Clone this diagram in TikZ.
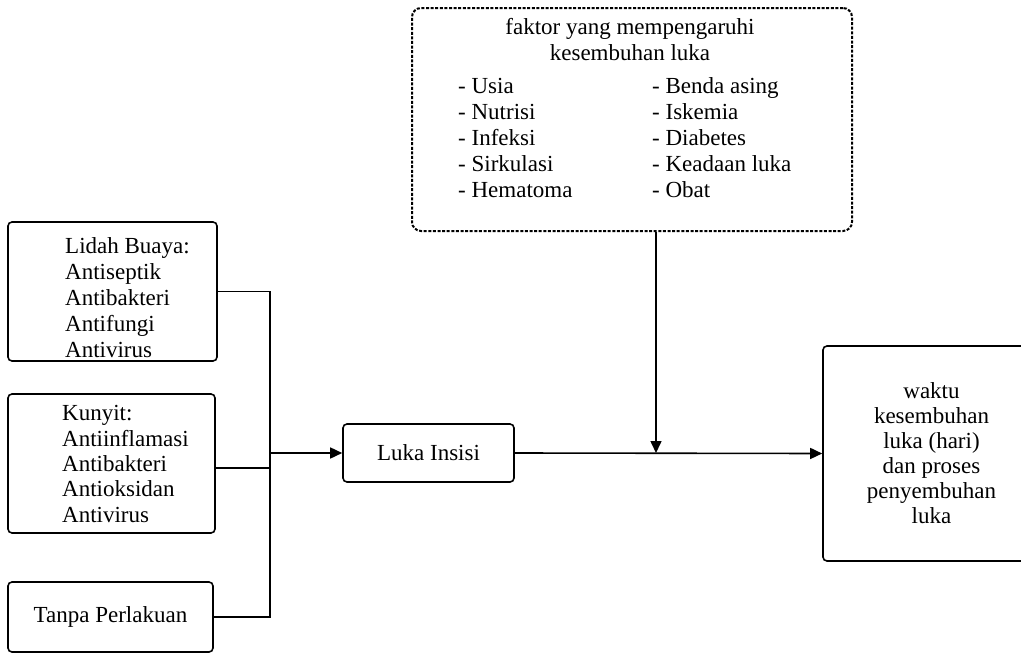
\documentclass[tikz,border=0pt]{standalone}
\usepackage{fontspec}
\setmainfont{Liberation Serif}
\usetikzlibrary{arrows.meta}
\begin{document}
\begin{tikzpicture}[x=1pt,y=-1pt,
  box/.style={draw, line width=1.6pt, rounded corners=4pt, inner sep=0pt},
  dotbox/.style={draw, line width=2pt, dash pattern=on 3pt off 1.6pt, rounded corners=9pt, inner sep=0pt},
  txt/.style={font=\fontsize{23}{26}\selectfont, inner sep=0pt},
  txtb/.style={font=\fontsize{23}{25}\selectfont, inner sep=0pt},
  conn/.style={line width=1.6pt},
  arr/.style={conn, -{Triangle[length=12pt,width=11pt]}},
]
\useasboundingbox (0,0) rectangle (1021,653);

% top dotted box
\node[dotbox, minimum width=440pt, minimum height=223pt] (faktor) at (632,119.5) {};
\node[txt, align=center, anchor=base, font=\fontsize{23}{26}\selectfont] (ftitle) at (630,60) {faktor yang mempengaruhi\\kesembuhan luka};
\node[txt, align=left, anchor=base west, font=\fontsize{23}{25.8}\selectfont] (fleft) at (458,197) {- Usia\\- Nutrisi\\- Infeksi\\- Sirkulasi\\- Hematoma};
\node[txt, align=left, anchor=base west, font=\fontsize{23}{25.8}\selectfont] (fright) at (652,197) {- Benda asing\\- Iskemia\\- Diabetes\\- Keadaan luka\\- Obat};

% left boxes
\node[box, minimum width=209pt, minimum height=139pt] (lidah) at (112.5,291.5) {};
\node[txt, align=left, anchor=base west] (lidahtxt) at (65,357) {Lidah Buaya:\\Antiseptik\\Antibakteri\\Antifungi\\Antivirus};

\node[box, minimum width=207pt, minimum height=139pt] (kunyit) at (111.5,463.5) {};
\node[txt, align=left, anchor=base west, font=\fontsize{23}{25.3}\selectfont] (kunyittxt) at (62,522) {Kunyit:\\Antiinflamasi\\Antibakteri\\Antioksidan\\Antivirus};

\node[box, txt, draw, line width=1.6pt, minimum width=205pt, minimum height=70pt] (tanpa) at (110.5,617) {Tanpa Perlakuan};

% middle
\node[box, txt, draw, line width=1.6pt, minimum width=171pt, minimum height=58pt] (luka) at (428.5,453) {Luka Insisi};

% right box
\node[box, txtb, draw, line width=1.6pt, align=center, minimum width=217pt, minimum height=215pt] (hasil) at (931.5,453.5) {waktu\\kesembuhan\\luka (hari)\\dan proses\\penyembuhan\\luka};

% connectors
\coordinate (bus) at (270,453);
\coordinate (join) at (656,453);
\draw[conn] (lidah.east) -| (bus);
\draw[conn] ([yshift=-4.5pt]kunyit.east) -- ([yshift=-4.5pt]kunyit.east -| bus);
\draw[conn] (tanpa.east) -| (bus);
\draw[arr] (bus) -- (luka.west);
\draw[arr] (luka.east) -- (hasil.west);
\draw[arr] (faktor.south -| join) -- (join);
\end{tikzpicture}
\end{document}
